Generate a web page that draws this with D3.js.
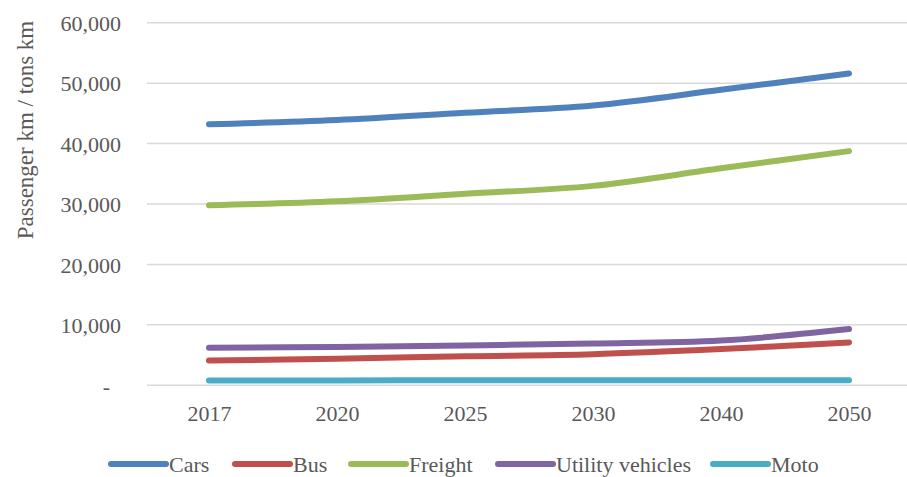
<!DOCTYPE html>
<html><head><meta charset="utf-8">
<script src="https://cdn.jsdelivr.net/npm/d3@7"></script>
<style>
html,body{margin:0;padding:0;background:#fff;}
svg{display:block;}
svg text{font-family:"Liberation Serif","Times New Roman","DejaVu Serif",serif;}
</style></head>
<body>
<svg id="chart" width="907" height="477"></svg>
<script>
const years = ["2017","2020","2025","2030","2040","2050"];
const seriesNames = ["Cars","Bus","Freight","Utility vehicles","Moto"];
const seriesColors = ["#4F81BD","#C0504D","#9BBB59","#8064A2","#4BACC6"];
const cars = [43200, 43900, 45100, 46300, 48900, 51600];
const bus = [4100, 4400, 4800, 5150, 6000, 7100];
const freight = [29800, 30450, 31700, 33000, 35900, 38750];
const utility = [6200, 6350, 6600, 6900, 7400, 9300];
const moto = [800, 810, 820, 830, 840, 850];
const yTicks = [0, 10000, 20000, 30000, 40000, 50000, 60000];
const yLabel = "Passenger km / tons km";

const series = [cars, bus, freight, utility, moto];
const font = "Liberation Serif, Times New Roman, DejaVu Serif, serif";
const textColor = "#595959";

const svg = d3.select("#chart");
const x = d3.scalePoint().domain(years).range([145, 913]).padding(0.5);
const y = d3.scaleLinear().domain([0, 60000]).range([385.3, 22.7]);

function styleText(sel, size) {
  size = size || 22;
  sel.attr("font-family", font).style("font-family", font)
    .attr("font-size", size).style("font-size", size + "px").attr("fill", textColor);
}

// y axis labels
const yAxis = d3.axisLeft(y).tickValues(yTicks).tickSize(0)
  .tickFormat(d => d === 0 ? "-" : d3.format(",")(d));
const gy = svg.append("g").attr("transform", "translate(121,0)").call(yAxis)
  .attr("font-family", font);
gy.select(".domain").remove();
gy.selectAll("text").attr("x", 0).attr("dy", "0.35em").attr("text-anchor", "end").call(styleText);
gy.selectAll(".tick").filter(d => d === 0).select("text").attr("x", -11);

// gridlines
svg.append("g").selectAll("line").data(yTicks).join("line")
  .attr("x1", 147).attr("x2", 907)
  .attr("y1", d => y(d)).attr("y2", d => y(d))
  .attr("stroke", "#D9D9D9").attr("stroke-width", 1.5);

// x axis
const xAxis = d3.axisBottom(x).tickSize(0);
const gx = svg.append("g").attr("transform", "translate(0,385.3)").call(xAxis)
  .attr("font-family", font);
gx.select(".domain").remove();
gx.selectAll("text").attr("y", 28).attr("dy", "0.35em").call(styleText);

// y label
svg.append("text")
  .attr("transform", "translate(25,130) rotate(-90)")
  .attr("text-anchor", "middle").attr("dy", "0.35em")
  .call(styleText, 23)
  .text(yLabel);

// lines
const line = d3.line().x((d, i) => x(years[i])).y(d => y(d)).curve(d3.curveCardinal.tension(0));
svg.append("g").selectAll("path").data(series).join("path")
  .attr("d", d => line(d))
  .attr("fill", "none")
  .attr("stroke", (d, i) => seriesColors[i])
  .attr("stroke-width", 6)
  .attr("stroke-linecap", "round")
  .attr("stroke-linejoin", "round");

// legend
const legendX = [111, 235, 351, 498, 713];
const lg = svg.append("g").selectAll("g").data(seriesNames).join("g")
  .attr("transform", (d, i) => `translate(${legendX[i]},464)`);
lg.append("line").attr("x1", 0).attr("x2", 55).attr("y1", 0).attr("y2", 0)
  .attr("stroke", (d, i) => seriesColors[i]).attr("stroke-width", 6)
  .attr("stroke-linecap", "round");
lg.append("text").attr("x", 58).attr("dy", "0.35em").call(styleText)
  .text(d => d);
</script>
</body></html>
